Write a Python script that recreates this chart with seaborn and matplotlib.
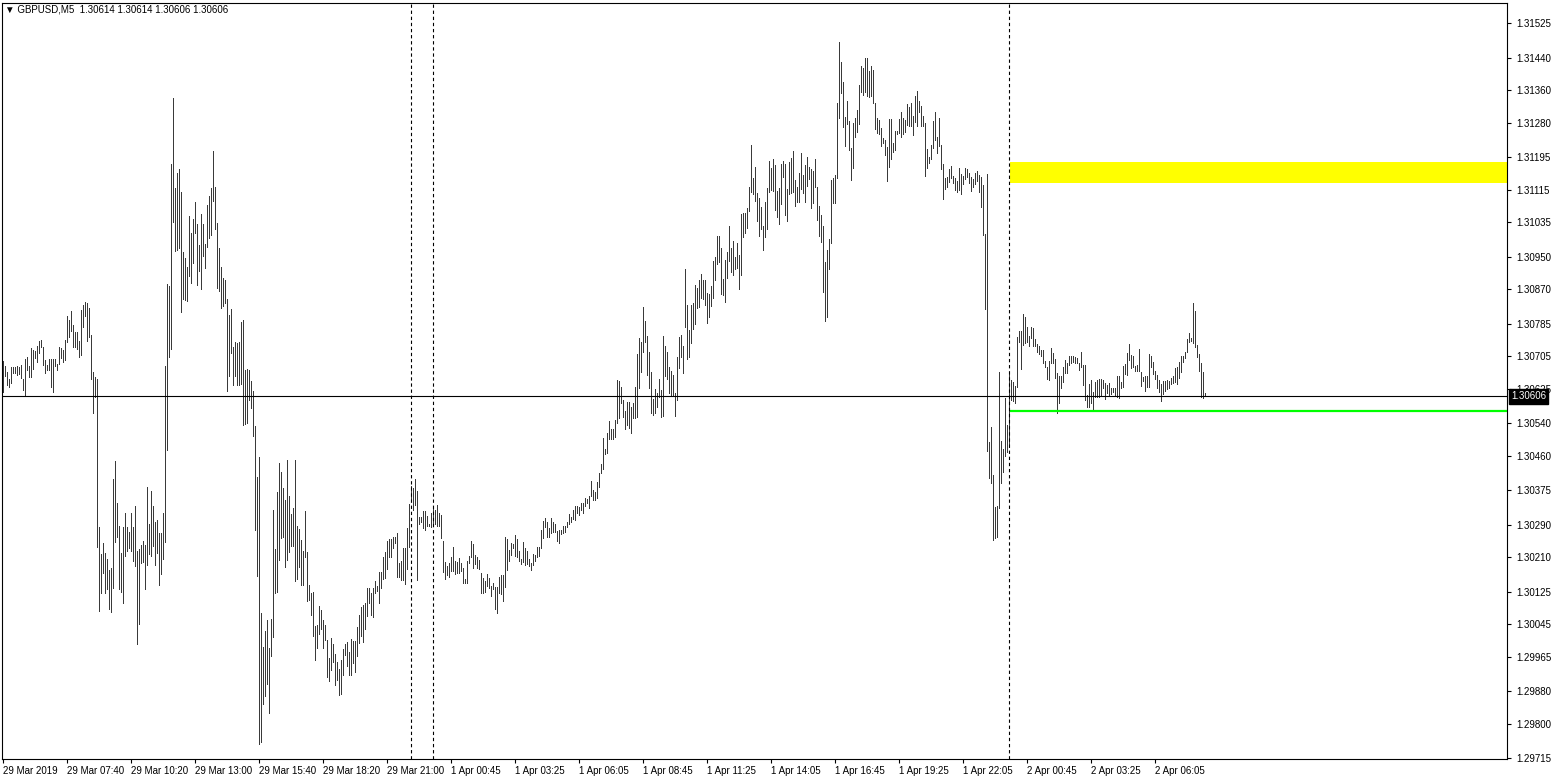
import numpy as np
import pandas as pd
import matplotlib
matplotlib.use("Agg")
import matplotlib.pyplot as plt
import matplotlib.transforms as mtransforms
import seaborn as sns

# GBPUSD M5 bars, high / low per bar
highs = [
    1.30693, 1.30681, 1.30666, 1.30649, 1.30678, 1.30678, 1.30678, 1.30681, 1.30678, 1.30683,
    1.30649, 1.30698, 1.30703, 1.30681, 1.30725, 1.30720, 1.30718, 1.30730, 1.30742, 1.30745,
    1.30727, 1.30695, 1.30683, 1.30698, 1.30698, 1.30698, 1.30698, 1.30686, 1.30727, 1.30725,
    1.30720, 1.30745, 1.30804, 1.30794, 1.30816, 1.30781, 1.30764, 1.30764, 1.30742, 1.30818,
    1.30831, 1.30838, 1.30836, 1.30823, 1.30757, 1.30666, 1.30654, 1.30649, 1.30284, 1.30217,
    1.30244, 1.30220, 1.30205, 1.30178, 1.30183, 1.30403, 1.30447, 1.30343, 1.30288, 1.30220,
    1.30284, 1.30320, 1.30284, 1.30271, 1.30318, 1.30284, 1.30335, 1.30225, 1.30229, 1.30239,
    1.30249, 1.30239, 1.30383, 1.30293, 1.30373, 1.30335, 1.30296, 1.30301, 1.30269, 1.30269,
    1.30318, 1.30681, 1.30882, 1.30877, 1.31178, 1.31341, 1.31119, 1.31156, 1.31166, 1.31109,
    1.30961, 1.30946, 1.30926, 1.31050, 1.31008, 1.31042, 1.31084, 1.31030, 1.30978, 1.31055,
    1.31030, 1.30981, 1.31077, 1.31099, 1.31119, 1.31210, 1.31121, 1.31033, 1.30971, 1.30924,
    1.30897, 1.30892, 1.30845, 1.30806, 1.30821, 1.30727, 1.30740, 1.30737, 1.30740, 1.30789,
    1.30794, 1.30671, 1.30673, 1.30671, 1.30644, 1.30619, 1.30533, 1.30408, 1.30457, 1.30072,
    1.29988, 1.30028, 1.30055, 1.29986, 1.30057, 1.30326, 1.30229, 1.30370, 1.30442, 1.30420,
    1.30380, 1.30350, 1.30449, 1.30360, 1.30316, 1.30330, 1.30449, 1.30286, 1.30279, 1.30252,
    1.30225, 1.30323, 1.30222, 1.30141, 1.30121, 1.30124, 1.30040, 1.30043, 1.30089, 1.30079,
    1.30055, 1.30043, 1.30006, 1.29961, 1.30010, 1.29996, 1.29971, 1.29951, 1.29934, 1.29956,
    1.29983, 1.29996, 1.30001, 1.29976, 1.30008, 1.30003, 1.30003, 1.30038, 1.30067, 1.30087,
    1.30092, 1.30097, 1.30134, 1.30134, 1.30121, 1.30134, 1.30151, 1.30139, 1.30173, 1.30173,
    1.30210, 1.30222, 1.30249, 1.30254, 1.30254, 1.30261, 1.30261, 1.30269, 1.30195, 1.30200,
    1.30232, 1.30232, 1.30281, 1.30340, 1.30385, 1.30380, 1.30403, 1.30373, 1.30308, 1.30308,
    1.30323, 1.30323, 1.30311, 1.30293, 1.30318, 1.30335, 1.30326, 1.30338, 1.30318, 1.30313,
    1.30249, 1.30198, 1.30188, 1.30195, 1.30210, 1.30234, 1.30200, 1.30198, 1.30207, 1.30195,
    1.30183, 1.30156, 1.30200, 1.30212, 1.30249, 1.30242, 1.30215, 1.30210, 1.30202, 1.30170,
    1.30158, 1.30151, 1.30168, 1.30158, 1.30139, 1.30146, 1.30136, 1.30136, 1.30161, 1.30166,
    1.30166, 1.30259, 1.30254, 1.30227, 1.30244, 1.30242, 1.30264, 1.30254, 1.30225, 1.30205,
    1.30247, 1.30232, 1.30225, 1.30205, 1.30195, 1.30217, 1.30215, 1.30234, 1.30234, 1.30276,
    1.30299, 1.30306, 1.30296, 1.30281, 1.30306, 1.30296, 1.30293, 1.30274, 1.30276, 1.30276,
    1.30286, 1.30286, 1.30296, 1.30316, 1.30308, 1.30326, 1.30335, 1.30335, 1.30333, 1.30343,
    1.30343, 1.30357, 1.30353, 1.30360, 1.30397, 1.30375, 1.30370, 1.30395, 1.30417, 1.30439,
    1.30503, 1.30476, 1.30516, 1.30545, 1.30525, 1.30525, 1.30548, 1.30646, 1.30644, 1.30629,
    1.30597, 1.30570, 1.30592, 1.30592, 1.30580, 1.30590, 1.30629, 1.30710, 1.30749, 1.30740,
    1.30826, 1.30791, 1.30754, 1.30715, 1.30666, 1.30599, 1.30624, 1.30614, 1.30649, 1.30621,
    1.30754, 1.30730, 1.30715, 1.30678, 1.30668, 1.30658, 1.30614, 1.30703, 1.30752, 1.30757,
    1.30730, 1.30919, 1.30831, 1.30769, 1.30831, 1.30836, 1.30880, 1.30873, 1.30892, 1.30907,
    1.30892, 1.30892, 1.30860, 1.30858, 1.30877, 1.30939, 1.30949, 1.31001, 1.31001, 1.30971,
    1.30895, 1.30942, 1.30961, 1.31025, 1.30971, 1.30988, 1.30949, 1.30983, 1.30954, 1.31055,
    1.31057, 1.31057, 1.31070, 1.31121, 1.31225, 1.31144, 1.31171, 1.31107, 1.31094, 1.31072,
    1.31025, 1.31084, 1.31119, 1.31186, 1.31168, 1.31190, 1.31176, 1.31112, 1.31119, 1.31178,
    1.31186, 1.31178, 1.31117, 1.31183, 1.31193, 1.31210, 1.31139, 1.31121, 1.31156, 1.31205,
    1.31151, 1.31176, 1.31195, 1.31171, 1.31166, 1.31161, 1.31190, 1.31121, 1.31075, 1.31052,
    1.31025, 1.30937, 1.30966, 1.30993, 1.31139, 1.31144, 1.31151, 1.31328, 1.31479, 1.31429,
    1.31380, 1.31294, 1.31333, 1.31284, 1.31217, 1.31279, 1.31291, 1.31311, 1.31373, 1.31419,
    1.31414, 1.31439, 1.31439, 1.31407, 1.31419, 1.31410, 1.31328, 1.31291, 1.31286, 1.31267,
    1.31242, 1.31237, 1.31220, 1.31289, 1.31289, 1.31230, 1.31259, 1.31259, 1.31289, 1.31306,
    1.31291, 1.31286, 1.31326, 1.31318, 1.31328, 1.31296, 1.31345, 1.31358, 1.31333, 1.31321,
    1.31296, 1.31279, 1.31215, 1.31195, 1.31225, 1.31284, 1.31306, 1.31245, 1.31291, 1.31225,
    1.31178, 1.31144, 1.31146, 1.31166, 1.31173, 1.31149, 1.31144, 1.31136, 1.31168, 1.31153,
    1.31149, 1.31168, 1.31166, 1.31156, 1.31146, 1.31141, 1.31156, 1.31161, 1.31151, 1.31146,
    1.31126, 1.31006, 1.31153, 1.30493, 1.30530, 1.30412, 1.30333, 1.30335, 1.30666, 1.30496,
    1.30476, 1.30602, 1.30535, 1.30666, 1.30646, 1.30641, 1.30631, 1.30752, 1.30767, 1.30767,
    1.30808, 1.30801, 1.30777, 1.30754, 1.30777, 1.30774, 1.30747, 1.30735, 1.30730, 1.30720,
    1.30720, 1.30693, 1.30678, 1.30693, 1.30725, 1.30713, 1.30698, 1.30663, 1.30656, 1.30656,
    1.30678, 1.30695, 1.30688, 1.30705, 1.30705, 1.30705, 1.30703, 1.30700, 1.30688, 1.30715,
    1.30683, 1.30683, 1.30609, 1.30636, 1.30646, 1.30617, 1.30641, 1.30646, 1.30649, 1.30649,
    1.30646, 1.30639, 1.30634, 1.30639, 1.30626, 1.30626, 1.30626, 1.30656, 1.30656, 1.30641,
    1.30681, 1.30686, 1.30713, 1.30735, 1.30708, 1.30705, 1.30681, 1.30683, 1.30722, 1.30666,
    1.30654, 1.30656, 1.30656, 1.30710, 1.30705, 1.30690, 1.30668, 1.30658, 1.30646, 1.30636,
    1.30644, 1.30644, 1.30646, 1.30644, 1.30651, 1.30656, 1.30676, 1.30678, 1.30690, 1.30705,
    1.30705, 1.30715, 1.30747, 1.30762, 1.30749, 1.30836, 1.30816, 1.30732, 1.30710, 1.30688,
    1.30666, 1.30614,
]

lows = [
    1.30617, 1.30656, 1.30634, 1.30629, 1.30639, 1.30663, 1.30663, 1.30658, 1.30661, 1.30651,
    1.30622, 1.30609, 1.30671, 1.30654, 1.30654, 1.30673, 1.30700, 1.30690, 1.30713, 1.30727,
    1.30683, 1.30663, 1.30671, 1.30671, 1.30629, 1.30617, 1.30681, 1.30671, 1.30686, 1.30700,
    1.30690, 1.30695, 1.30740, 1.30752, 1.30767, 1.30727, 1.30727, 1.30722, 1.30703, 1.30708,
    1.30777, 1.30804, 1.30742, 1.30752, 1.30649, 1.30565, 1.30604, 1.30234, 1.30077, 1.30121,
    1.30170, 1.30121, 1.30131, 1.30082, 1.30074, 1.30134, 1.30247, 1.30259, 1.30131, 1.30124,
    1.30097, 1.30212, 1.30225, 1.30232, 1.30225, 1.30200, 1.30188, 1.29996, 1.30045, 1.30195,
    1.30198, 1.30131, 1.30190, 1.30217, 1.30212, 1.30237, 1.30190, 1.30220, 1.30141, 1.30168,
    1.30205, 1.30247, 1.30474, 1.30703, 1.30722, 1.31035, 1.30964, 1.30966, 1.30971, 1.30813,
    1.30845, 1.30843, 1.30841, 1.30902, 1.30885, 1.30934, 1.31008, 1.30880, 1.30914, 1.30870,
    1.30951, 1.30922, 1.30973, 1.30996, 1.31003, 1.31087, 1.31018, 1.30872, 1.30865, 1.30825,
    1.30828, 1.30836, 1.30619, 1.30656, 1.30713, 1.30634, 1.30656, 1.30634, 1.30634, 1.30636,
    1.30535, 1.30538, 1.30540, 1.30597, 1.30577, 1.30508, 1.30276, 1.30163, 1.29749, 1.29754,
    1.29848, 1.29868, 1.29897, 1.29826, 1.29966, 1.30013, 1.30121, 1.30124, 1.30202, 1.30257,
    1.30261, 1.30185, 1.30202, 1.30222, 1.30237, 1.30237, 1.30151, 1.30156, 1.30185, 1.30141,
    1.30141, 1.30210, 1.30101, 1.30104, 1.30067, 1.30015, 1.29956, 1.29986, 1.30020, 1.30033,
    1.29986, 1.30006, 1.29915, 1.29905, 1.29932, 1.29951, 1.29895, 1.29907, 1.29870, 1.29873,
    1.29919, 1.29969, 1.29942, 1.29919, 1.29919, 1.29949, 1.29927, 1.29966, 1.29998, 1.30015,
    1.30001, 1.30033, 1.30065, 1.30097, 1.30067, 1.30062, 1.30121, 1.30126, 1.30097, 1.30134,
    1.30156, 1.30158, 1.30180, 1.30210, 1.30210, 1.30232, 1.30244, 1.30161, 1.30161, 1.30153,
    1.30153, 1.30143, 1.30180, 1.30234, 1.30353, 1.30326, 1.30338, 1.30153, 1.30293, 1.30296,
    1.30281, 1.30276, 1.30288, 1.30286, 1.30284, 1.30288, 1.30293, 1.30288, 1.30288, 1.30257,
    1.30173, 1.30156, 1.30166, 1.30161, 1.30176, 1.30176, 1.30168, 1.30170, 1.30170, 1.30176,
    1.30146, 1.30146, 1.30146, 1.30195, 1.30210, 1.30183, 1.30193, 1.30183, 1.30180, 1.30121,
    1.30121, 1.30124, 1.30139, 1.30134, 1.30114, 1.30131, 1.30082, 1.30072, 1.30121, 1.30119,
    1.30101, 1.30136, 1.30178, 1.30200, 1.30215, 1.30232, 1.30212, 1.30210, 1.30200, 1.30193,
    1.30198, 1.30190, 1.30193, 1.30188, 1.30178, 1.30190, 1.30200, 1.30210, 1.30212, 1.30232,
    1.30257, 1.30284, 1.30259, 1.30259, 1.30269, 1.30271, 1.30271, 1.30249, 1.30244, 1.30266,
    1.30269, 1.30271, 1.30284, 1.30293, 1.30296, 1.30303, 1.30301, 1.30318, 1.30313, 1.30326,
    1.30320, 1.30335, 1.30343, 1.30330, 1.30360, 1.30350, 1.30350, 1.30357, 1.30383, 1.30417,
    1.30427, 1.30464, 1.30466, 1.30501, 1.30501, 1.30501, 1.30506, 1.30540, 1.30553, 1.30590,
    1.30555, 1.30525, 1.30535, 1.30528, 1.30516, 1.30553, 1.30553, 1.30555, 1.30626, 1.30666,
    1.30715, 1.30740, 1.30658, 1.30626, 1.30565, 1.30560, 1.30565, 1.30580, 1.30604, 1.30555,
    1.30557, 1.30656, 1.30649, 1.30614, 1.30609, 1.30609, 1.30557, 1.30597, 1.30676, 1.30703,
    1.30663, 1.30777, 1.30698, 1.30703, 1.30737, 1.30772, 1.30784, 1.30823, 1.30826, 1.30848,
    1.30845, 1.30831, 1.30786, 1.30801, 1.30828, 1.30848, 1.30892, 1.30932, 1.30937, 1.30858,
    1.30855, 1.30838, 1.30897, 1.30939, 1.30912, 1.30905, 1.30919, 1.30922, 1.30870, 1.30905,
    1.30998, 1.31008, 1.31020, 1.31062, 1.31109, 1.31104, 1.31087, 1.31038, 1.31001, 1.31018,
    1.30966, 1.30998, 1.31018, 1.31109, 1.31114, 1.31112, 1.31065, 1.31048, 1.31030, 1.31080,
    1.31146, 1.31052, 1.31038, 1.31104, 1.31107, 1.31109, 1.31075, 1.31084, 1.31084, 1.31117,
    1.31107, 1.31084, 1.31124, 1.31141, 1.31070, 1.31082, 1.31121, 1.31040, 1.31001, 1.30986,
    1.30863, 1.30791, 1.30801, 1.30919, 1.30983, 1.31082, 1.31082, 1.31144, 1.31291, 1.31353,
    1.31269, 1.31222, 1.31277, 1.31213, 1.31139, 1.31168, 1.31245, 1.31257, 1.31277, 1.31355,
    1.31348, 1.31355, 1.31345, 1.31343, 1.31345, 1.31328, 1.31264, 1.31254, 1.31252, 1.31222,
    1.31230, 1.31200, 1.31136, 1.31171, 1.31190, 1.31208, 1.31213, 1.31252, 1.31254, 1.31245,
    1.31252, 1.31257, 1.31274, 1.31272, 1.31272, 1.31249, 1.31281, 1.31272, 1.31306, 1.31272,
    1.31272, 1.31148, 1.31168, 1.31181, 1.31190, 1.31218, 1.31237, 1.31205, 1.31222, 1.31166,
    1.31092, 1.31117, 1.31121, 1.31134, 1.31144, 1.31131, 1.31114, 1.31109, 1.31114, 1.31104,
    1.31129, 1.31141, 1.31146, 1.31131, 1.31112, 1.31121, 1.31129, 1.31136, 1.31109, 1.31072,
    1.31003, 1.30821, 1.30471, 1.30405, 1.30392, 1.30252, 1.30257, 1.30259, 1.30330, 1.30392,
    1.30419, 1.30459, 1.30469, 1.30481, 1.30597, 1.30594, 1.30590, 1.30629, 1.30740, 1.30673,
    1.30732, 1.30737, 1.30740, 1.30730, 1.30749, 1.30730, 1.30730, 1.30715, 1.30710, 1.30705,
    1.30688, 1.30678, 1.30649, 1.30646, 1.30688, 1.30688, 1.30651, 1.30565, 1.30590, 1.30626,
    1.30641, 1.30663, 1.30663, 1.30683, 1.30688, 1.30690, 1.30688, 1.30688, 1.30671, 1.30678,
    1.30634, 1.30597, 1.30580, 1.30580, 1.30590, 1.30575, 1.30604, 1.30604, 1.30604, 1.30607,
    1.30626, 1.30599, 1.30614, 1.30607, 1.30612, 1.30617, 1.30609, 1.30604, 1.30602, 1.30626,
    1.30629, 1.30661, 1.30658, 1.30695, 1.30676, 1.30678, 1.30668, 1.30668, 1.30668, 1.30631,
    1.30644, 1.30619, 1.30629, 1.30629, 1.30678, 1.30661, 1.30649, 1.30626, 1.30617, 1.30594,
    1.30612, 1.30619, 1.30624, 1.30626, 1.30636, 1.30639, 1.30641, 1.30636, 1.30651, 1.30666,
    1.30690, 1.30700, 1.30715, 1.30740, 1.30742, 1.30737, 1.30727, 1.30703, 1.30668, 1.30604,
    1.30602, 1.30606,
]

price_ticks = [1.31525, 1.31440, 1.31360, 1.31280, 1.31195, 1.31115, 1.31035, 1.30950,
               1.30870, 1.30785, 1.30705, 1.30625, 1.30540, 1.30460, 1.30375, 1.30290,
               1.30210, 1.30125, 1.30045, 1.29965, 1.29880, 1.29800, 1.29715]
time_labels = ["29 Mar 2019", "29 Mar 07:40", "29 Mar 10:20", "29 Mar 13:00", "29 Mar 15:40",
               "29 Mar 18:20", "29 Mar 21:00", "1 Apr 00:45", "1 Apr 03:25", "1 Apr 06:05",
               "1 Apr 08:45", "1 Apr 11:25", "1 Apr 14:05", "1 Apr 16:45", "1 Apr 19:25",
               "1 Apr 22:05", "2 Apr 00:45", "2 Apr 03:25", "2 Apr 06:05"]
label_step = 32
separators = [204, 215, 503]
bid = 1.30606
support = 1.30570
zone_top, zone_bottom = 1.31183, 1.31131
zone_start = 503.5
header = "\u25bc GBPUSD,M5  1.30614 1.30614 1.30606 1.30606"

sns.set_theme(style="white")
plt.rcParams['font.family'] = ['Liberation Sans', 'DejaVu Sans']

W, H = 1557, 783
fig = plt.figure(figsize=(W / 100, H / 100), dpi=100)
fig.patch.set_facecolor('white')
ax = fig.add_axes([2 / W, 1 - 759 / H, 1505 / W, 756 / H])
ax.set_facecolor('white')

x_max = 752
ax.set_xlim(-0.5, x_max)
ax.set_ylim(1.29713, 1.31575)

# bars as high-low segments, one thin line per bar
bars = pd.DataFrame({
    'bar': np.repeat(np.arange(len(highs)), 2),
    'price': np.column_stack([lows, highs]).ravel(),
})
sns.lineplot(data=bars, x='bar', y='price', units='bar', estimator=None,
             color='#3a3a3a', lw=0.45, antialiased=False, ax=ax, legend=False)

# objects on the chart
ax.fill_between([zone_start, x_max], zone_bottom, zone_top, color='#FFFF00', lw=0, zorder=1)
ax.hlines(support, zone_start, x_max, color='#00FF00', lw=1.6, zorder=3)
ax.axhline(bid, color='black', lw=0.8, zorder=3)
for s in separators:
    ax.axvline(s, color='black', lw=0.8, ls=(0, (3, 2.5)), zorder=3)

# axes styling
for sp in ax.spines.values():
    sp.set_color('black')
    sp.set_linewidth(0.8)
ax.yaxis.tick_right()
ax.set_yticks(price_ticks)
ax.set_yticklabels([f"{p:.5f}" for p in price_ticks])
ax.set_xticks(np.arange(len(time_labels)) * label_step)
ax.set_xticklabels(time_labels, ha='left')
ax.tick_params(axis='both', direction='out', length=3, width=0.8, color='black',
               labelsize=7, labelcolor='black', pad=2)
ax.tick_params(axis='y', right=True, left=False, pad=4)
ax.tick_params(axis='x', bottom=True)
ax.set_xlabel('')
ax.set_ylabel('')

# current bid label on the price scale
trans = mtransforms.blended_transform_factory(ax.transAxes, ax.transData)
ax.text(1.0 + 4 / 1505, bid, f"{bid:.5f}", transform=trans, color='white', fontsize=7,
        va='center', ha='left', clip_on=False, zorder=10,
        bbox=dict(facecolor='black', edgecolor='black', pad=1.6))

fig.text(5 / W, 1 - 10 / H, header, fontsize=7, va='center', ha='left', color='black')

fig.savefig('out.png', dpi=100, facecolor='white')
